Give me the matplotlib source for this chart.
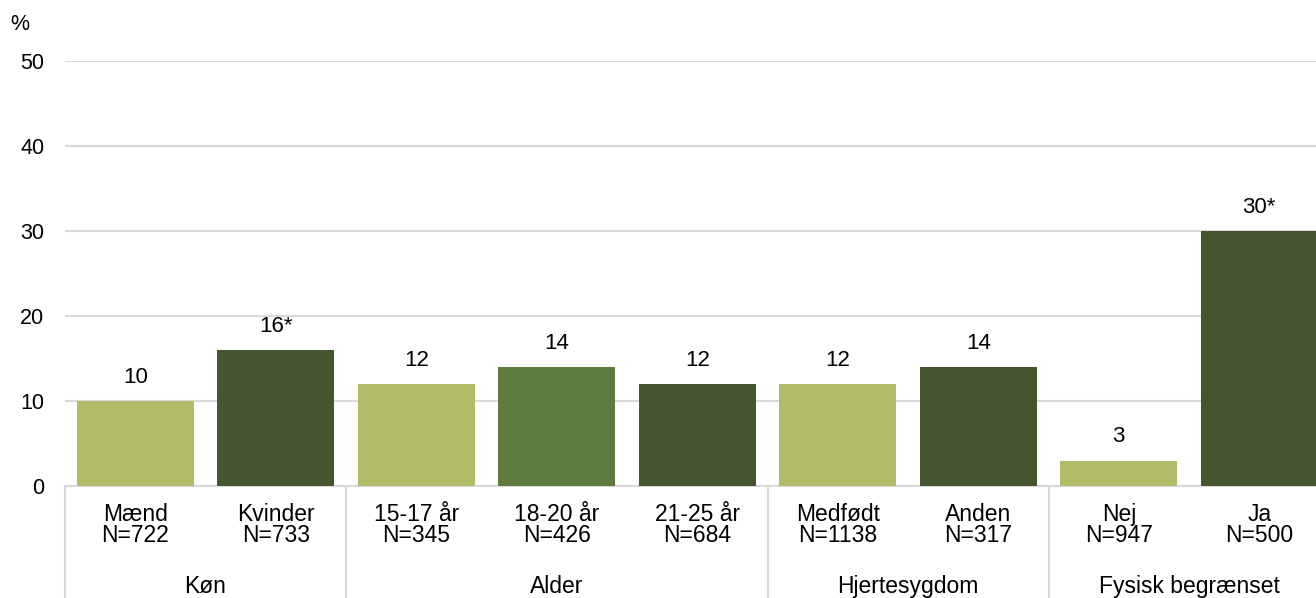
import matplotlib.pyplot as plt
import numpy as np

plt.rcParams["font.family"] = ["Liberation Sans", "DejaVu Sans"]

# data
categories = ["Mænd", "Kvinder", "15-17 år", "18-20 år", "21-25 år",
              "Medfødt", "Anden", "Nej", "Ja"]
n_counts = [722, 733, 345, 426, 684, 1138, 317, 947, 500]
values = [10, 16, 12, 14, 12, 12, 14, 3, 30]
value_labels = ["10", "16*", "12", "14", "12", "12", "14", "3", "30*"]
groups = ["Køn", "Alder", "Hjertesygdom", "Fysisk begrænset"]
group_sizes = [2, 3, 2, 2]

light = "#B2BB6A"
mid = "#5F7B3E"
dark = "#44552F"
bar_colors = [light, dark, light, mid, dark, light, dark, light, dark]
grid_col = "#D9D9D9"

fig = plt.figure(figsize=(13.16, 5.98), dpi=100)
ax = fig.add_axes([65 / 1316, 1 - 486 / 598, 1264.5 / 1316, 425 / 598])

x = np.arange(len(categories))
ax.bar(x, values, width=0.833, color=bar_colors, zorder=3)

for xi, v, lab in zip(x, values, value_labels):
    ax.annotate(lab, (xi, v), xytext=(0, 13), textcoords="offset points",
                ha="center", va="baseline", fontsize=16)

ax.set_xlim(-0.5, len(categories) - 0.5)
ax.set_ylim(0, 50)
ax.set_yticks(np.arange(0, 51, 10))
ax.tick_params(axis="y", length=0, pad=15, labelsize=15.5)
ax.set_xticks([])
ax.grid(axis="y", color=grid_col, linewidth=1.5, zorder=0)
for s in ["top", "right", "left"]:
    ax.spines[s].set_visible(False)
ax.spines["bottom"].set_color(grid_col)
ax.spines["bottom"].set_linewidth(1.5)

ax.text(-0.036, 1.087, "%", transform=ax.transAxes, fontsize=15.5,
        ha="center", va="center")

trans = ax.get_xaxis_transform()
for xi, cat, n in zip(x, categories, n_counts):
    ax.text(xi, -0.0835, cat, transform=trans, ha="center",
            va="baseline", fontsize=16.5)
    ax.text(xi, -0.1315, f"N={n}", transform=trans, ha="center",
            va="baseline", fontsize=16.5)

# group labels and separators
start = 0
bounds = [-0.5]
for g, size in zip(groups, group_sizes):
    center = start + (size - 1) / 2
    ax.text(center, -0.2518, g, transform=trans, ha="center", va="baseline",
            fontsize=16.5)
    start += size
    bounds.append(start - 0.5)
for b in bounds:
    ax.plot([b, b], [0, -0.4], transform=trans, color=grid_col,
            linewidth=1.5, clip_on=False)

fig.savefig("out.png", dpi=100)
